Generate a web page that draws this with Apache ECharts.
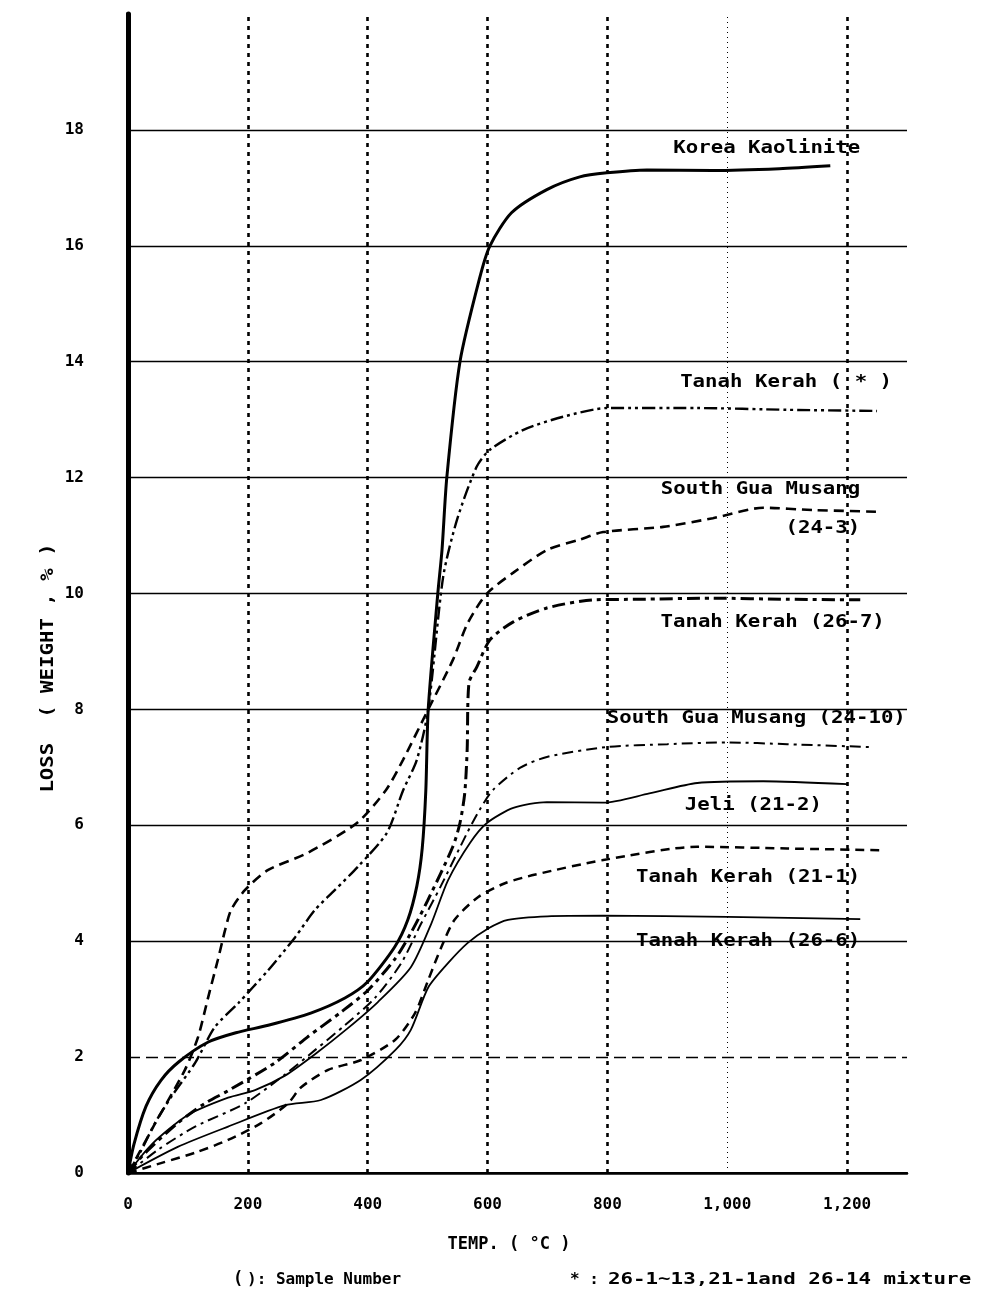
<!DOCTYPE html>
<html>
<head>
<meta charset="utf-8">
<script src="https://cdn.jsdelivr.net/npm/echarts@6/dist/echarts.min.js"></script>
<style>
html, body { margin: 0; padding: 0; background: #fff; }
#lossChart { width: 984px; height: 1300px; }
</style>
</head>
<body>
<div id="lossChart"></div>
<script>
// weight loss curves, [temp (°C), loss (%)]

var koreaKaolinite = [[0,0],[10,0.5],[30,1.15],[55,1.6],[85,1.92],[134,2.26],[180,2.42],[234,2.55],[305,2.76],[362,3.02],[400,3.3],[445,3.9],[467,4.37],[482,4.95],[491,5.6],[497,6.6],[501,8.0],[517,10.0],[524,10.75],[532,12.0],[554,14.0],[587,15.45],[604,16.0],[640,16.57],[699,16.97],[754,17.19],[799,17.26],[866,17.31],[976,17.3],[1087,17.33],[1172,17.38]];

var tanahKerahMix = [[0,0],[20,0.35],[45,0.86],[72,1.31],[112,1.9],[145,2.52],[184,2.93],[234,3.5],[279,4.07],[312,4.54],[345,4.88],[385,5.3],[432,5.87],[459,6.6],[482,7.13],[501,8.0],[526,10.29],[549,11.27],[582,12.19],[604,12.48],[659,12.82],[726,13.05],[799,13.2],[950,13.2],[1100,13.17],[1250,13.15]];

var southGua243 = [[0,0],[15,0.28],[45,0.85],[95,1.78],[117,2.35],[134,3.04],[150,3.68],[162,4.19],[172,4.54],[195,4.88],[234,5.23],[299,5.52],[382,6.04],[430,6.6],[459,7.13],[501,8.0],[542,8.85],[567,9.49],[599,10.0],[643,10.36],[699,10.75],[754,10.93],[793,11.06],[893,11.15],[976,11.3],[1060,11.48],[1143,11.44],[1255,11.41]];

var tanahKerah267 = [[0,0],[28,0.34],[83,0.86],[128,1.2],[167,1.42],[245,1.9],[300,2.35],[356,2.78],[400,3.15],[446,3.7],[472,4.14],[500,4.7],[542,5.63],[554,6.04],[562,6.56],[566,7.3],[569,8.46],[582,8.73],[604,9.2],[643,9.51],[699,9.75],[776,9.89],[850,9.9],[976,9.92],[1100,9.9],[1222,9.89]];

var southGua2410 = [[0,0],[50,0.4],[112,0.8],[195,1.2],[262,1.7],[312,2.12],[362,2.55],[412,3.02],[456,3.62],[489,4.3],[522,4.95],[566,5.87],[587,6.27],[609,6.61],[654,6.99],[699,7.18],[799,7.35],[900,7.4],[1000,7.43],[1100,7.4],[1238,7.35]];

var jeli212 = [[0,0],[40,0.5],[100,1.0],[167,1.3],[212,1.43],[262,1.68],[312,2.05],[367,2.5],[417,2.95],[472,3.55],[506,4.3],[534,5.05],[571,5.7],[599,6.04],[643,6.3],[699,6.4],[793,6.39],[870,6.55],[950,6.73],[1060,6.76],[1200,6.71]];

var tanahKerah211 = [[0,0],[55,0.17],[112,0.35],[167,0.57],[222,0.86],[267,1.2],[289,1.48],[334,1.78],[389,1.95],[446,2.3],[479,2.76],[501,3.33],[523,3.9],[545,4.37],[584,4.76],[629,5.0],[680,5.15],[793,5.4],[950,5.63],[1100,5.6],[1255,5.57]];

var tanahKerah266 = [[0,0],[83,0.45],[167,0.8],[262,1.17],[322,1.26],[389,1.61],[446,2.12],[472,2.47],[501,3.2],[534,3.62],[567,3.97],[601,4.22],[634,4.37],[700,4.43],[793,4.44],[1000,4.42],[1222,4.38]];

// label text, right edge temp, centre loss
var curveLabels = [
    ['Korea Kaolinite', 1222, 17.69],
    ['Tanah Kerah ( * )', 1275, 13.65],
    ['South Gua Musang', 1222, 11.79],
    ['(24-3)', 1222, 11.13],
    ['Tanah Kerah (26-7)', 1263, 9.51],
    ['South Gua Musang (24-10)', 1298, 7.85],
    ['Jeli (21-2)', 1158, 6.35],
    ['Tanah Kerah (21-1)', 1222, 5.11],
    ['Tanah Kerah (26-6)', 1222, 3.99]
];

var vGridTemps = [200, 400, 600, 800, 1000, 1200];
var hGridLoss = [2, 4, 6, 8, 10, 12, 14, 16, 18];

var monoFont = '"DejaVu Sans Mono", "Liberation Mono", monospace';

function curve (name, data, width, dash) {
    return {
        name: name,
        type: 'line',
        data: data,
        smooth: 0.25,
        showSymbol: false,
        symbol: 'none',
        silent: true,
        z: 5,
        lineStyle: { color: '#000', width: width, type: dash || 'solid' }
    };
}

var vLines = vGridTemps.map(function (t) {
    var thin = (t === 1000);
    return {
        xAxis: t,
        lineStyle: { color: '#000', width: thin ? 1 : 2.6, type: thin ? [1, 4] : [4, 5] }
    };
});
var hLines = hGridLoss.map(function (v) {
    return {
        yAxis: v,
        lineStyle: { color: '#000', width: 1.3, type: v === 2 ? [12, 6] : 'solid' }
    };
});

var option = {
    backgroundColor: '#fff',
    animation: false,
    grid: { left: 128, right: 77, top: 14, bottom: 127 },
    xAxis: [{
        type: 'value', min: 0, max: 1300, interval: 200,
        axisLine: { lineStyle: { color: '#000', width: 2.5 } },
        axisTick: { show: false },
        splitLine: { show: false },
        axisLabel: {
            color: '#000', fontFamily: monoFont, fontWeight: 'bold', fontSize: 16, margin: 24,
            formatter: function (v) {
                if (v > 1200) return '';
                return v >= 1000 ? Math.floor(v / 1000) + ',' + String(v % 1000 + 1000).slice(1) : String(v);
            }
        }
    }, {
        type: 'value', min: 0, max: 1300, position: 'top',
        axisLine: { lineStyle: { color: '#000', width: 2 } },
        axisTick: { show: false }, axisLabel: { show: false }, splitLine: { show: false }
    }],
    yAxis: [{
        type: 'value', min: 0, max: 20, interval: 2,
        axisLine: { show: true, lineStyle: { color: '#000', width: 4 } },
        axisTick: { show: false },
        splitLine: { show: false },
        axisLabel: {
            color: '#000', fontFamily: monoFont, fontWeight: 'bold', fontSize: 16, margin: 44,
            formatter: function (v) { return v >= 20 ? '' : String(v); }
        }
    }, {
        type: 'value', min: 0, max: 20, position: 'right',
        axisLine: { show: true, lineStyle: { color: '#000', width: 5 } },
        axisTick: { show: false }, axisLabel: { show: false }, splitLine: { show: false }
    }],
    series: [
        {
            name: 'grid', type: 'line', data: [], z: 1, silent: true,
            markLine: { silent: true, symbol: ['none', 'none'], label: { show: false },
                animation: false, data: vLines.concat(hLines) }
        },
        curve('Korea Kaolinite', koreaKaolinite, 3),
        curve('Tanah Kerah ( * )', tanahKerahMix, 2.4, [13, 4, 3, 4, 3, 4]),
        curve('South Gua Musang (24-3)', southGua243, 2.6, [10, 6]),
        curve('Tanah Kerah (26-7)', tanahKerah267, 3, [13, 5, 4, 5]),
        curve('South Gua Musang (24-10)', southGua2410, 2, [11, 5, 3, 5]),
        curve('Jeli (21-2)', jeli212, 1.8),
        curve('Tanah Kerah (21-1)', tanahKerah211, 2.5, [9, 6]),
        curve('Tanah Kerah (26-6)', tanahKerah266, 1.8)
    ]
};

var chart = echarts.init(document.getElementById('lossChart'));
chart.setOption(option);

var texts = curveLabels.map(function (lb) {
    var p = chart.convertToPixel({ gridIndex: 0 }, [lb[1], lb[2]]);
    return {
        type: 'text', x: p[0], y: p[1], scaleX: 1.15, z: 10,
        style: { text: lb[0], align: 'right', verticalAlign: 'middle',
            font: 'bold 18px ' + monoFont, fill: '#000' }
    };
});

texts.push({
    type: 'text', x: 48, y: 668, rotation: Math.PI / 2, scaleX: 1.15,
    style: { text: 'LOSS  ( WEIGHT , % )', align: 'center', verticalAlign: 'middle',
        font: 'bold 18px ' + monoFont, fill: '#000' }
});
texts.push({
    type: 'text', x: 509, y: 1245,
    style: { text: 'TEMP. ( \u00B0C )', align: 'center', verticalAlign: 'middle',
        font: 'bold 17px ' + monoFont, fill: '#000' }
});
texts.push({
    type: 'text', x: 233, y: 1280,
    style: { text: '(', align: 'left', verticalAlign: 'middle',
        font: 'bold 17px ' + monoFont, fill: '#000' }
});
texts.push({
    type: 'text', x: 247, y: 1280,
    style: { text: '): Sample Number', align: 'left', verticalAlign: 'middle',
        font: 'bold 16px ' + monoFont, fill: '#000' }
});
texts.push({
    type: 'text', x: 570, y: 1280,
    style: { text: '* :', align: 'left', verticalAlign: 'middle',
        font: 'bold 16px ' + monoFont, fill: '#000' }
});
texts.push({
    type: 'text', x: 608, y: 1280, scaleX: 1.3,
    style: { text: '26-1~13,21-1and 26-14 mixture', align: 'left', verticalAlign: 'middle',
        font: 'bold 16px ' + monoFont, fill: '#000' }
});

chart.setOption({ graphic: texts });
</script>
</body>
</html>
